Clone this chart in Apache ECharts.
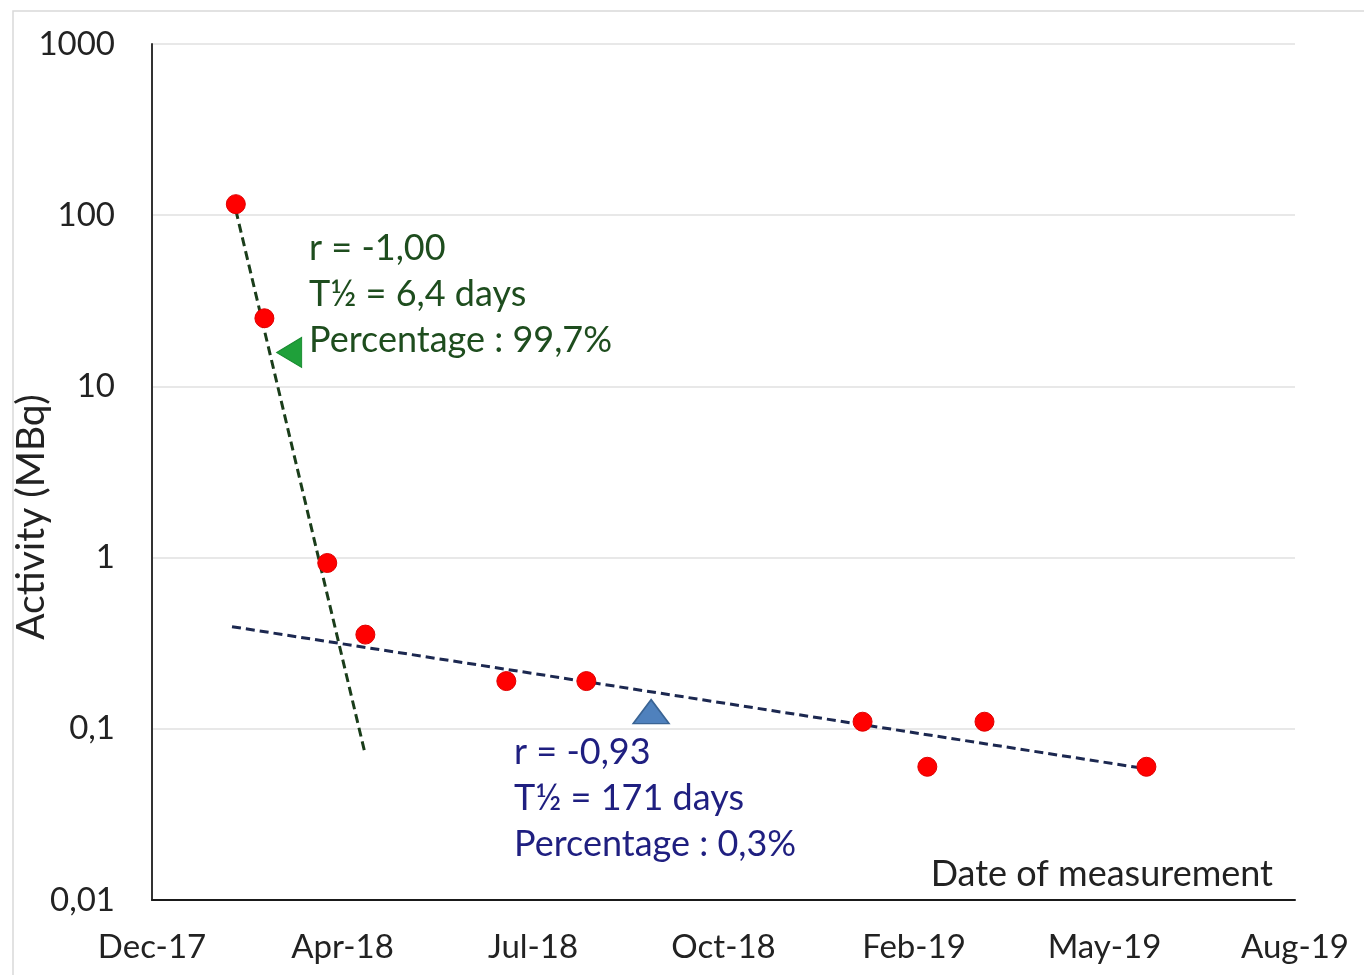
<!DOCTYPE html>
<html>
<head>
<meta charset="utf-8">
<script src="https://cdn.jsdelivr.net/npm/echarts@6/dist/echarts.min.js"></script>
<style>
html,body{margin:0;padding:0;background:#fff;}
#chart{width:1364px;height:975px;}
</style>
</head>
<body>
<div id="chart"></div>
<script>
// Dates as Excel serial numbers (43100 = 31 Dec 2017)
const measureDates = [43144, 43159, 43192, 43212, 43286, 43328, 43473, 43507, 43537, 43622];
const activity = [116, 25, 0.93, 0.355, 0.19, 0.19, 0.11, 0.06, 0.11, 0.06];

const greenTrendDates = [43144, 43212];
const greenTrendValues = [107, 0.0705];
const blueTrendDates = [43142, 43622];
const blueTrendValues = [0.395, 0.0584];

const greenMarker = [43172, 15.8];
const blueMarker = [43362, 0.126];

const greenText = ['r = -1,00', 'T½ = 6,4 days', 'Percentage : 99,7%'];
const blueText = ['r = -0,93', 'T½ = 171 days', 'Percentage : 0,3%'];
const yAxisTitle = 'Activity (MBq)';
const xAxisTitle = 'Date of measurement';
const monthNames = ['Jan','Feb','Mar','Apr','May','Jun','Jul','Aug','Sep','Oct','Nov','Dec'];

function serialToLabel(s) {
  const d = new Date(Date.UTC(1899, 11, 30) + s * 86400000);
  return monthNames[d.getUTCMonth()] + '-' + String(d.getUTCFullYear()).slice(2);
}
function pairs(xs, ys) { return xs.map((x, i) => [x, ys[i]]); }

const FONT = 'Lato, "Open Sans", sans-serif';
const chart = echarts.init(document.getElementById('chart'), null, {renderer: 'canvas'});

chart.setOption({
  animation: false,
  backgroundColor: '#ffffff',
  grid: {left: 152, right: 69, top: 44, bottom: 75},
  xAxis: {
    type: 'value',
    min: 43100, max: 43700, interval: 100,
    axisLine: {show: true, lineStyle: {color: '#1a1a1a', width: 2}},
    axisTick: {show: false},
    splitLine: {show: false},
    axisLabel: {
      formatter: serialToLabel,
      color: '#222', fontFamily: FONT, fontSize: 33, margin: 31
    }
  },
  yAxis: {
    type: 'log', logBase: 10, min: 0.01, max: 1000,
    axisLine: {show: true, lineStyle: {color: '#333', width: 2}},
    axisTick: {show: false},
    splitLine: {show: true, lineStyle: {color: '#e0e0e0', width: 1.5}},
    axisLabel: {
      formatter: v => String(v).replace('.', ','),
      color: '#222', fontFamily: FONT, fontSize: 33, margin: 37
    }
  },
  graphic: [
    {type: 'rect', shape: {x: 13, y: 11, width: 1400, height: 1000},
     style: {fill: 'none', stroke: '#d9d9d9', lineWidth: 1.5}, z: -10, silent: true},
    {type: 'text', x: 31, y: 517, rotation: Math.PI / 2,
     style: {text: yAxisTitle, fill: '#222', font: '39px ' + FONT, align: 'center', verticalAlign: 'middle'}},
    {type: 'text', x: 1273, y: 874,
     style: {text: xAxisTitle, fill: '#222', font: '36px ' + FONT, align: 'right', verticalAlign: 'middle'}},
    {type: 'text', x: 309, y: 225,
     style: {text: greenText.join('\n'), fill: '#1e4d1e', font: '36px ' + FONT, lineHeight: 46}},
    {type: 'text', x: 514, y: 729,
     style: {text: blueText.join('\n'), fill: '#1f1f80', font: '36px ' + FONT, lineHeight: 46}}
  ],
  series: [
    {
      type: 'line', data: pairs(greenTrendDates, greenTrendValues),
      symbol: 'none', z: 2,
      lineStyle: {color: '#1a3d1a', width: 3, type: [9, 5]}
    },
    {
      type: 'line', data: pairs(blueTrendDates, blueTrendValues),
      symbol: 'none', z: 2,
      lineStyle: {color: '#1c2850', width: 3, type: [9, 5]}
    },
    {
      type: 'scatter', data: pairs(measureDates, activity),
      symbol: 'circle', symbolSize: 19, z: 5,
      itemStyle: {color: '#ff0000', borderColor: '#e00000', borderWidth: 1, opacity: 1}
    },
    {
      type: 'scatter', data: [greenMarker],
      symbol: 'triangle', symbolSize: [30, 25], symbolRotate: 90, z: 4,
      itemStyle: {color: '#1fa03a', borderColor: '#178a2e', borderWidth: 1, opacity: 1}
    },
    {
      type: 'scatter', data: [blueMarker],
      symbol: 'triangle', symbolSize: [36, 24], z: 4,
      itemStyle: {color: '#4f81bd', borderColor: '#3a6494', borderWidth: 1.5, opacity: 1}
    }
  ]
});
</script>
</body>
</html>
